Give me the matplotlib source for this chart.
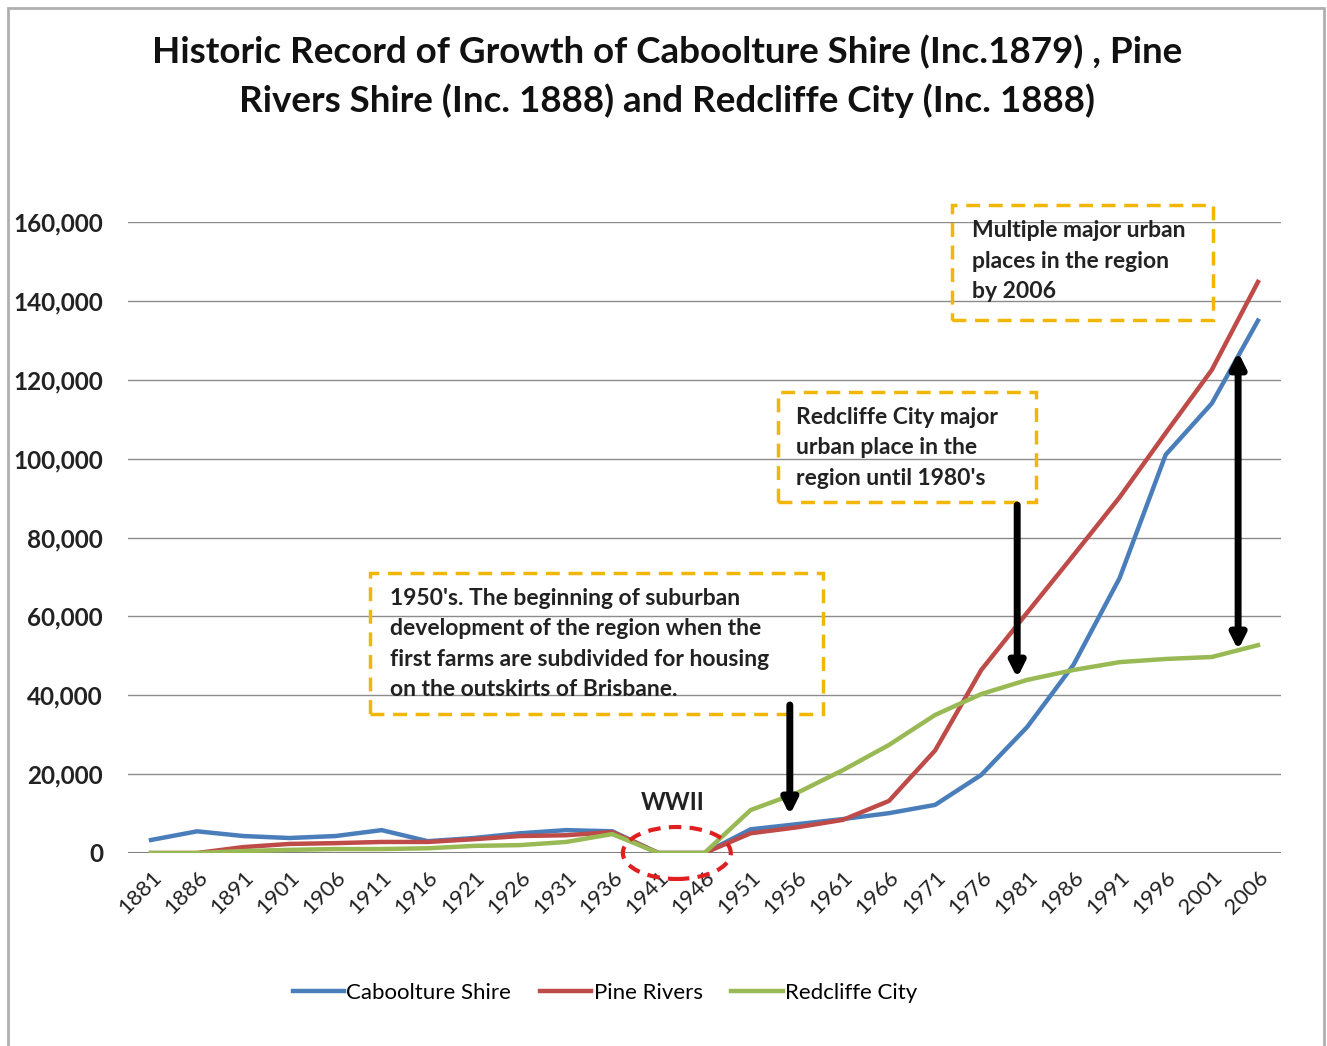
import matplotlib.pyplot as plt
from matplotlib.patches import Rectangle, Ellipse
import numpy as np

plt.rcParams['font.family'] = ['Lato', 'DejaVu Sans']

years = ['1881', '1886', '1891', '1901', '1906', '1911', '1916', '1921', '1926',
         '1931', '1936', '1941', '1946', '1951', '1956', '1961', '1966', '1971',
         '1976', '1981', '1986', '1991', '1996', '2001', '2006']

caboolture = [3300, 5500, 4300, 3800, 4300, 5800, 3000, 3800, 5000, 5800, 5500,
              0, 0, 6000, 7300, 8600, 10100, 12200, 19800, 32000, 47700, 69700,
              101000, 114000, 135000]
pine_rivers = [0, 0, 1500, 2300, 2500, 2800, 2800, 3500, 4300, 4500, 5300,
               0, 0, 5000, 6500, 8400, 13200, 26000, 46400, 61000, 75500, 90200,
               106500, 122500, 144800]
redcliffe = [0, 0, 500, 800, 1000, 1000, 1200, 1800, 2000, 2800, 4800,
             0, 0, 10900, 15200, 21000, 27400, 35000, 40300, 43900, 46400, 48400,
             49200, 49700, 52700]

W, H = 1327, 1046
fig = plt.figure(figsize=(W / 100, H / 100), dpi=100)
ax = fig.add_axes([128 / W, 1 - 853 / H, (1281 - 128) / W, (853 - 222) / H])

x = np.arange(len(years))
ax.plot(x, caboolture, color='#4a7ebb', lw=3.2, label='Caboolture Shire', zorder=3)
ax.plot(x, pine_rivers, color='#be4b48', lw=3.2, label='Pine Rivers', zorder=3)
ax.plot(x, redcliffe, color='#98b954', lw=3.2, label='Redcliffe City', zorder=3)

ax.set_xlim(-0.5, len(years) - 0.5)
ax.set_ylim(0, 160000)
ax.set_yticks(range(0, 160001, 20000))
ax.set_yticklabels([f'{v:,}' for v in range(0, 160001, 20000)],
                   fontsize=17.5, fontweight='bold', color='#222222')
ax.set_xticks(x)
ax.set_xticklabels(years, rotation=45, ha='right', rotation_mode='anchor',
                   fontsize=16, color='#222222')
ax.tick_params(axis='both', length=0)
ax.tick_params(axis='y', pad=18)
ax.tick_params(axis='x', pad=10)
for s in ax.spines.values():
    s.set_visible(False)
ax.yaxis.grid(True, color='#8c8c8c', lw=1)
ax.set_axisbelow(True)
ax.axhline(0, color='#808080', lw=2.2, zorder=2)

# title
fig.text(0.503, 1 - 52 / H, 'Historic Record of Growth of Caboolture Shire (Inc.1879) , Pine',
         ha='center', va='center', fontsize=26.5, fontweight='bold', color='#111111')
fig.text(0.503, 1 - 101 / H, 'Rivers Shire (Inc. 1888) and Redcliffe City (Inc. 1888)',
         ha='center', va='center', fontsize=26.5, fontweight='bold', color='#111111')

# annotation boxes
box_kw = dict(fill=False, ec='#f2b705', lw=2.5, ls=(0, (4, 2.5)), clip_on=False, zorder=4)
ax.add_patch(Rectangle((4.75, 35250), 9.82, 35750, **box_kw))
ax.add_patch(Rectangle((13.59, 89000), 5.6, 27900, **box_kw))
ax.add_patch(Rectangle((17.37, 135150), 5.66, 29150, **box_kw))

txt_kw = dict(ha='left', va='center', fontsize=16.5, fontweight='bold', color='#222222',
              linespacing=1.55, clip_on=False, zorder=5)
ax.text(5.18, (853 - 644) / 631 * 160000, "1950's. The beginning of suburban\n"
        "development of the region when the\n"
        "first farms are subdivided for housing\non the outskirts of Brisbane.", **txt_kw)
ax.text(13.98, (853 - 448) / 631 * 160000,
        "Redcliffe City major\nurban place in the\nregion until 1980's", **txt_kw)
ax.text(17.8, (853 - 261) / 631 * 160000,
        "Multiple major urban\nplaces in the region\nby 2006", **txt_kw)

# arrows
arr = dict(color='black', lw=5, mutation_scale=22, shrinkA=0, shrinkB=0)
ax.annotate('', xy=(13.85, 9640), xytext=(13.85, 37530),
            arrowprops=dict(arrowstyle='-|>', **arr), zorder=6)
ax.annotate('', xy=(18.78, 44370), xytext=(18.78, 88240),
            arrowprops=dict(arrowstyle='-|>', **arr), zorder=6)
ax.annotate('', xy=(23.57, 51470), xytext=(23.57, 127040),
            arrowprops=dict(arrowstyle='<|-|>', **arr), zorder=6)

# WWII marker
ax.add_patch(Ellipse((11.4, 0), 2.34, 13185, fill=False, ec='#e02020', lw=3,
                     ls=(0, (3, 2)), clip_on=False, zorder=5))
ax.text(11.32, 12680, 'WWII', ha='center', va='center', fontsize=17,
        fontweight='bold', color='#222222')

fig.legend(loc='center', bbox_to_anchor=(0.456, 1 - 993 / H), ncol=3, frameon=False,
           fontsize=16, handlelength=2.3, handletextpad=0.1, columnspacing=1.3)

# outer frame
fig.patches.append(Rectangle((8 / W, -0.01), (1324 - 8) / W, 1 - 8 / H + 0.01,
                             transform=fig.transFigure, fill=False, ec='#b0b0b0', lw=2))

fig.savefig('out.png', dpi=100)
